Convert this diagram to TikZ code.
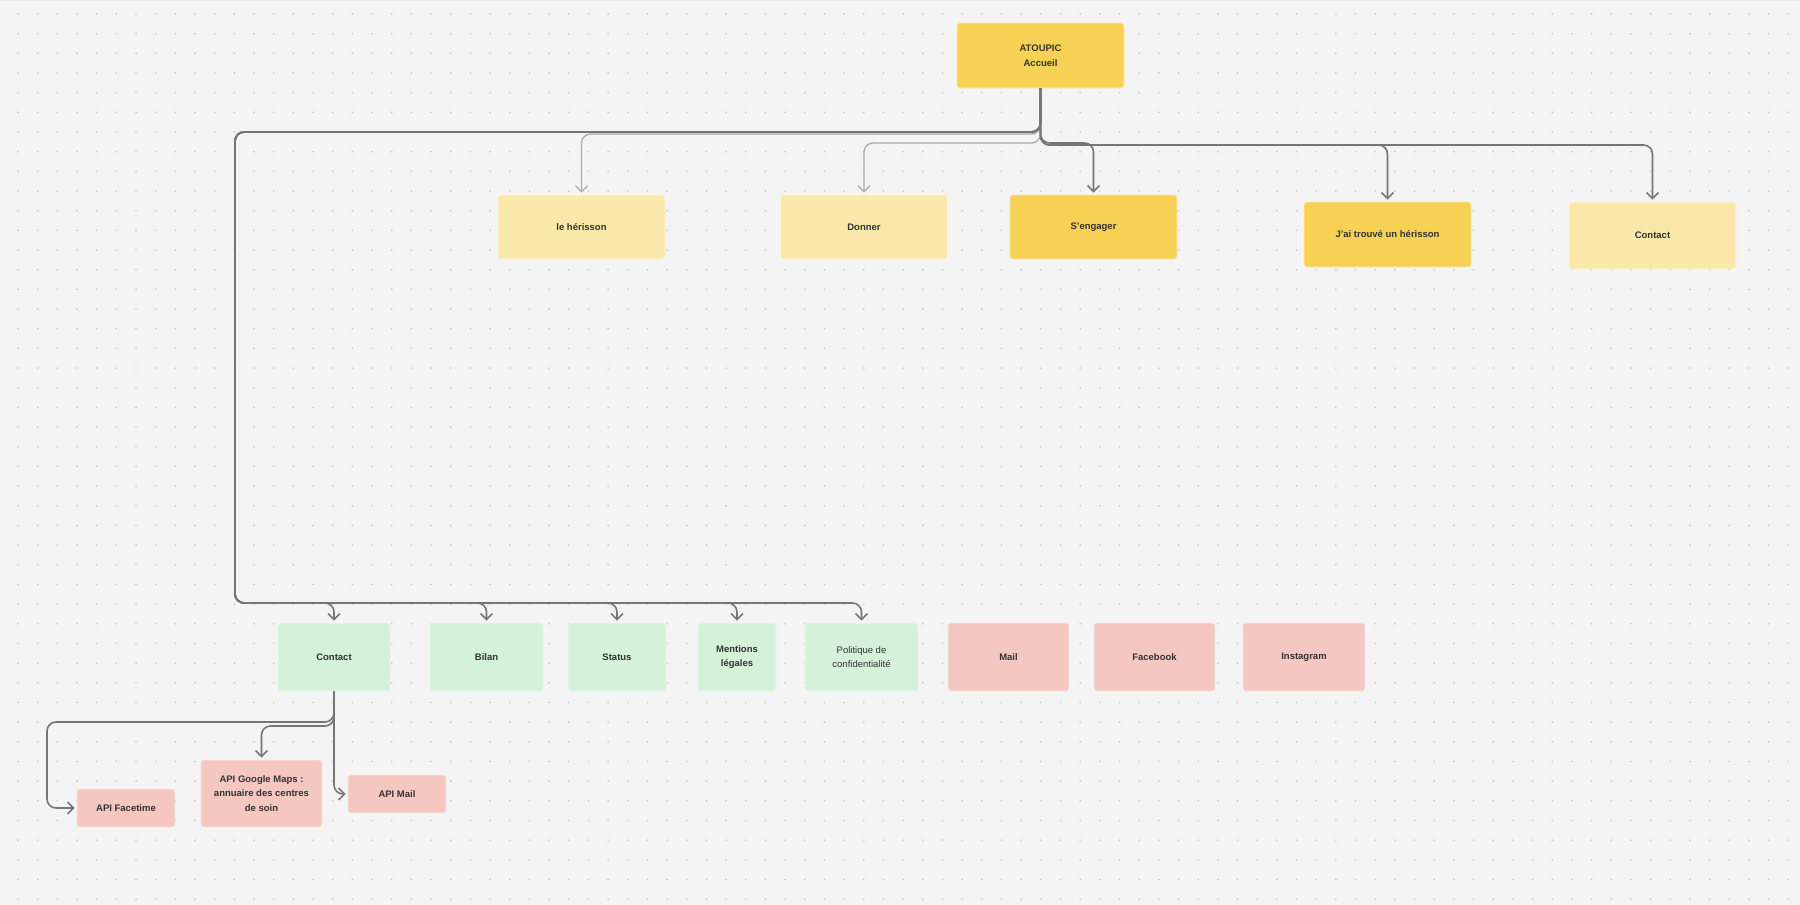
\documentclass[tikz,border=0pt]{standalone}
\usepackage{fontspec}
\setmainfont{Liberation Sans}
\usepackage{xcolor}
\usetikzlibrary{arrows.meta, positioning, calc}

\definecolor{fond}{HTML}{F4F4F4}
\definecolor{grille}{HTML}{C6C6C6}
\definecolor{jaune}{HTML}{F7D154}
\definecolor{jauneclair}{HTML}{FAE8AA}
\definecolor{vert}{HTML}{D4F2D8}
\definecolor{rose}{HTML}{F5C7C1}
\definecolor{trait}{HTML}{767676}
\definecolor{traitclair}{HTML}{ABABAB}
\definecolor{texte}{HTML}{333333}

\begin{document}
\begin{tikzpicture}[x=1pt, y=-1pt,
    boite/.style={rectangle, rounded corners=3pt, draw=white!55!#1, line width=0.6pt,
        fill=#1, text=texte, align=center, inner sep=0pt,
        font=\bfseries\fontsize{9.5}{14.5}\selectfont},
    fleche/.style={draw=trait, line width=1.6pt, rounded corners=9pt, shorten >=2pt,
        -{Straight Barb[length=6pt,width=12pt]}},
    flecheclaire/.style={fleche, draw=traitclair, line width=1.3pt}]
            \newcommand{\Haut}{227}
            \newcommand{\Bas}{657}

            % fond pointillé
            \fill[fond] (0,0) rectangle (1800,905);
            \useasboundingbox (0,0) rectangle (1800,905);
            \draw[black!8, line width=2pt] (0,0) -- (1800,0);
            \foreach \i in {0,...,90}
                \foreach \j in {0,...,45}
                    \fill[grille] (18+19.67*\i, 14+19.67*\j) circle (0.9pt);

            % niveaux des connecteurs
            \coordinate (nivH) at (0,134);
            \coordinate (nivD) at (0,143);
            \coordinate (nivT) at (0,145);
            \coordinate (nivG) at (235,132);
            \coordinate (nivB) at (0,603);
            \coordinate (nivF) at (47,722);
            \coordinate (nivM) at (0,726);

            \node[boite=jaune, minimum width=167pt, minimum height=65pt] (accueil) at (1040.5,55.5) {ATOUPIC\\Accueil};

            % rangée du haut
            \node[boite=jauneclair, minimum width=167pt, minimum height=64pt] (herisson) at (581.5,\Haut) {le hérisson};
            \node[boite=jauneclair, minimum width=167pt, minimum height=64pt] (donner) at (864,\Haut) {Donner};
            \node[boite=jaune, minimum width=167pt, minimum height=64pt] (engager) at (1093.5,\Haut) {S'engager};
            \node[boite=jaune, minimum width=167pt, minimum height=65pt] (trouve) at (1387.5,234.5) {J'ai trouvé un hérisson};
            \node[boite=jauneclair, minimum width=167pt, minimum height=67pt] (contactA) at (1652.5,235.5) {Contact};

            % rangée du bas
            \node[boite=vert, minimum width=112pt, minimum height=68pt] (contactB) at (334,\Bas) {Contact};
            \node[boite=vert, minimum width=113pt, minimum height=68pt] (bilan) at (486.5,\Bas) {Bilan};
            \node[boite=vert, minimum width=98pt, minimum height=68pt] (status) at (617,\Bas) {Status};
            \node[boite=vert, minimum width=78pt, minimum height=68pt] (mentions) at (737,\Bas) {Mentions\\légales};
            \node[boite=vert, minimum width=113pt, minimum height=68pt, font=\fontsize{9.5}{14.5}\selectfont] (politique) at (861.5,\Bas) {Politique de\\confidentialité};
            \node[boite=rose, minimum width=121pt, minimum height=68pt] (mail) at (1008.5,\Bas) {Mail};
            \node[boite=rose, minimum width=121pt, minimum height=68pt] (facebook) at (1154.5,\Bas) {Facebook};
            \node[boite=rose, minimum width=122pt, minimum height=68pt] (instagram) at (1304,\Bas) {Instagram};

            % API
            \node[boite=rose, minimum width=98pt, minimum height=38pt] (facetime) at (126,808) {API Facetime};
            \node[boite=rose, minimum width=121pt, minimum height=67pt] (maps) at (261.5,793.5) {API Google Maps :\\annuaire des centres\\de soin};
            \node[boite=rose, minimum width=98pt, minimum height=38pt] (apimail) at (397,794) {API Mail};

            % accueil -> rangée du haut
            \draw[flecheclaire] (accueil.south) |- (herisson.north |- nivH) -- (herisson.north);
            \draw[flecheclaire] (accueil.south) |- (donner.north |- nivD) -- (donner.north);
            \draw[fleche] (accueil.south) |- (engager.north |- nivD) -- (engager.north);
            \draw[fleche] (accueil.south) |- (trouve.north |- nivT) -- (trouve.north);
            \draw[fleche] (accueil.south) |- (contactA.north |- nivT) -- (contactA.north);

            % accueil -> rangée du bas
            \foreach \cible in {contactB, bilan, status, mentions, politique}
                \draw[fleche] (accueil.south) |- (nivG) |- (\cible.north |- nivB) -- (\cible.north);

            % contact -> API
            \draw[fleche] (contactB.south) |- (nivF) |- (facetime.west);
            \draw[fleche] (contactB.south) |- (maps.north |- nivM) -- (maps.north);
            \draw[fleche] (contactB.south) |- (apimail.west);
        \end{tikzpicture}
\end{document}
